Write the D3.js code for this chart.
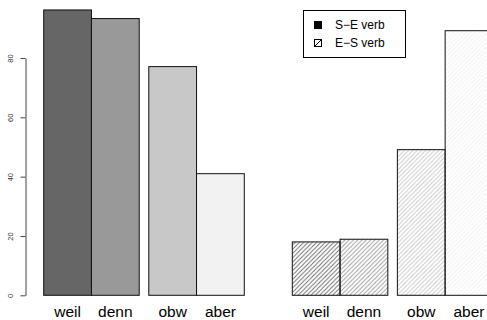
<!DOCTYPE html>
<html><head><meta charset="utf-8">
<script src="https://cdn.jsdelivr.net/npm/d3@7"></script>
<style>body{margin:0;background:#fff}svg{display:block}</style>
</head><body>
<svg id="c" width="487" height="320"></svg>
<script>
const categories = ["weil", "denn", "obw", "aber"];
const seVerb = [96.2, 93.3, 77.1, 41.0];
const esVerb = [18.0, 18.9, 49.1, 89.2];
const yTicks = [0, 20, 40, 60, 80];
const legendLabels = ["S\u2212E verb", "E\u2212S verb"];
const grays = ["#666666", "#999999", "#c8c8c8", "#f2f2f2"];

const svg = d3.select("#c");
const font = "Liberation Sans, Arial, Helvetica, sans-serif";

// bar slot positions: two groups of two bars, 0.2 bar gap between groups
const slot = i => Math.floor(i / 2) * 2.2 + (i % 2);
const y = d3.scaleLinear().domain([0, 80]).range([295.3, 58]);
const xL = d3.scaleLinear().domain([0, 4.2]).range([43.7, 244.3]);
const xR = d3.scaleLinear().domain([0, 4.2]).range([292.3, 492.9]);

// hatch patterns
const defs = svg.append("defs");
grays.forEach((g, i) => {
  const s = 4.3;
  const p = defs.append("pattern").attr("id", "h" + i)
    .attr("patternUnits", "userSpaceOnUse").attr("width", s).attr("height", s);
  p.append("path").attr("d", `M0,${s} L${s},0 M${-s/2},${s/2} L${s/2},${-s/2} M${s/2},${s*1.5} L${s*1.5},${s/2}`)
    .attr("stroke", g).attr("stroke-width", 0.9).attr("fill", "none");
});

// left panel
svg.append("g").selectAll("rect").data(seVerb).join("rect")
  .attr("x", (d, i) => xL(slot(i)))
  .attr("width", (d, i) => xL(slot(i) + 1) - xL(slot(i)))
  .attr("y", d => y(d)).attr("height", d => y(0) - y(d))
  .attr("fill", (d, i) => grays[i]).attr("stroke", "#111").attr("stroke-width", 1);

// right panel
svg.append("g").selectAll("rect").data(esVerb).join("rect")
  .attr("x", (d, i) => xR(slot(i)))
  .attr("width", (d, i) => xR(slot(i) + 1) - xR(slot(i)))
  .attr("y", d => y(d)).attr("height", d => y(0) - y(d))
  .attr("fill", (d, i) => `url(#h${i})`).attr("stroke", "#111").attr("stroke-width", 1);

// category labels
[xL, xR].forEach(x => {
  svg.append("g").selectAll("text").data(categories).join("text")
    .attr("x", (d, i) => x(slot(i) + 0.5)).attr("y", 317)
    .attr("text-anchor", "middle").attr("font-family", font).attr("font-size", 15.5)
    .attr("fill", "#000").text(d => d);
});

// y axis
const ax = svg.append("g").attr("transform", "translate(25.5,0)")
  .call(d3.axisLeft(y).tickValues(yTicks).tickSize(5).tickSizeOuter(0));
ax.select(".domain").attr("stroke", "#444");
ax.selectAll(".tick line").attr("stroke", "#444");
ax.selectAll(".tick text").attr("x", null).attr("dy", null)
  .attr("transform", "translate(-12.5,0) rotate(-90)")
  .attr("text-anchor", "middle").attr("font-family", font).attr("font-size", 7.5)
  .attr("fill", "#333");

// legend
const lg = svg.append("g");
lg.append("rect").attr("x", 303.5).attr("y", 10.5).attr("width", 102).attr("height", 47)
  .attr("fill", "#fff").attr("stroke", "#000").attr("stroke-width", 1);
legendLabels.forEach((t, i) => {
  const cy = 25 + i * 18;
  if (i === 0) {
    lg.append("rect").attr("x", 314).attr("y", cy - 4).attr("width", 8).attr("height", 8).attr("fill", "#000");
  } else {
    lg.append("rect").attr("x", 314.5).attr("y", cy - 3.5).attr("width", 7).attr("height", 7)
      .attr("fill", "#fff").attr("stroke", "#000").attr("stroke-width", 1);
    lg.append("line").attr("x1", 314.5).attr("y1", cy + 3.5).attr("x2", 321.5).attr("y2", cy - 3.5)
      .attr("stroke", "#000").attr("stroke-width", 1);
  }
  lg.append("text").attr("x", 335).attr("y", cy + 4).attr("font-family", font)
    .attr("font-size", 12).attr("fill", "#000").text(t);
});
</script>
</body></html>
